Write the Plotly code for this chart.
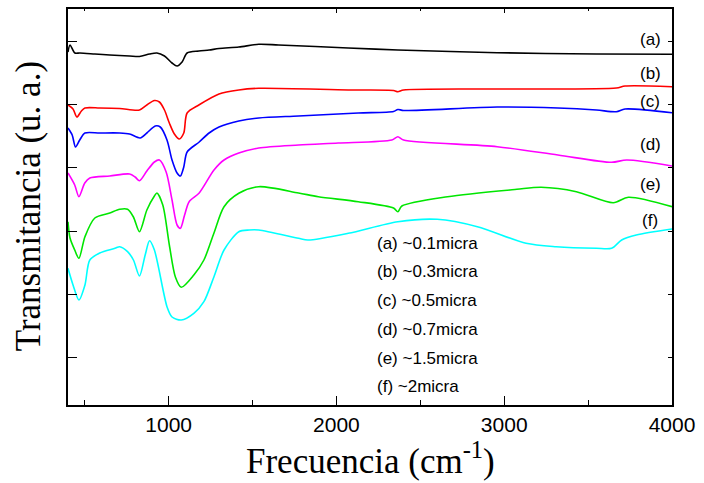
import plotly.graph_objects as go

# Frequencies (cm^-1) and transmittance (arbitrary units, offset traces)
freq_a = [400, 412, 441, 471, 560, 649, 767, 826, 886, 930, 975, 1020, 1050, 1080, 1110, 1180, 1241, 1300, 1418, 1537, 1655, 2070, 2366, 2958, 3550, 4000]
trans_a = [353, 360, 352, 352, 351, 350, 349, 348.5, 351, 352, 349, 342, 339, 343, 352, 354, 355, 356.5, 358, 360.7, 360, 357, 355, 352.3, 351, 350.7]

freq_b = [400, 430, 453, 480, 501, 589, 708, 826, 870, 915, 945, 975, 1004, 1034, 1063, 1090, 1110, 1180, 1300, 1418, 1537, 2070, 2340, 2366, 2400, 2958, 3668, 3720, 4000]
trans_b = [300, 296, 288, 294, 297, 297, 296.5, 295, 300, 304.5, 303, 295, 282, 271, 266, 272, 292, 300, 311, 315, 316.7, 315, 314.5, 313.3, 315, 316, 317, 319, 318.3]

freq_c = [400, 425, 445, 470, 501, 589, 708, 767, 830, 870, 920, 950, 990, 1020, 1050, 1070, 1090, 1110, 1182, 1241, 1300, 1418, 1537, 1774, 2130, 2340, 2366, 2400, 2958, 3320, 3550, 3668, 3720, 4000]
trans_c = [277, 270, 258, 265, 272, 272, 272, 271, 267, 272, 279, 278, 265, 245, 232, 229, 238, 253, 263, 272, 278, 284, 287, 289, 292, 293.5, 295.5, 294.5, 298, 297, 295, 293.3, 296, 292.3]

freq_d = [400, 440, 465, 500, 530, 649, 767, 800, 826, 870, 915, 945, 985, 1020, 1050, 1070, 1095, 1122, 1182, 1270, 1330, 1418, 1537, 1774, 2010, 2330, 2366, 2400, 2958, 3320, 3640, 3730, 4000]
trans_d = [232, 220, 208.3, 222, 227, 229, 231, 228, 224.3, 234, 243, 245, 233, 205, 180, 176.7, 190, 203.3, 212, 235, 245, 252, 257, 260, 262, 265, 268.3, 265, 258.3, 250, 242.7, 245, 239]

freq_e = [400, 412, 440, 465, 501, 560, 649, 708, 755, 790, 826, 870, 915, 930, 965, 1004, 1040, 1075, 1150, 1210, 1270, 1330, 1418, 1537, 1774, 1892, 2130, 2340, 2366, 2390, 2662, 3075, 3220, 3430, 3650, 3740, 4000]
trans_e = [183.3, 167, 155, 146.7, 168.3, 187, 192, 195.7, 195.7, 188, 173.3, 195, 209, 212, 200, 160, 128, 117.7, 130, 145, 172, 198.3, 211.7, 218.3, 212, 208.3, 203.3, 197, 193.3, 199, 208.3, 215.7, 217.7, 213.3, 202.3, 207.7, 198.3]

freq_f = [400, 430, 465, 501, 530, 589, 680, 708, 755, 790, 826, 860, 886, 915, 990, 1020, 1075, 1150, 1210, 1270, 1330, 1418, 1480, 1537, 1774, 1830, 2070, 2366, 2600, 2840, 3130, 3310, 3550, 3640, 3700, 3787, 4000]
trans_f = [136.7, 120, 105, 120, 145, 152, 156.7, 158.3, 153.3, 145, 129, 150, 164.3, 155, 98.3, 88, 85, 91.7, 103.3, 128.3, 155, 173.3, 175, 175, 166.7, 165, 171.7, 183.3, 185.7, 178.3, 161.7, 158.3, 156.7, 156.7, 165, 170, 176]

series_labels = ["(a)", "(b)", "(c)", "(d)", "(e)", "(f)"]
legend_texts = ["(a) ~0.1micra", "(b) ~0.3micra", "(c) ~0.5micra", "(d) ~0.7micra", "(e) ~1.5micra", "(f) ~2micra"]
colors = ["#000000", "#ff0000", "#0000ff", "#ff00ff", "#00e600", "#00ffff"]

x_ticks = [1000, 2000, 3000, 4000]
y_ticks = [48, 111, 174, 238, 301, 364]

# label positions (data coords)
label_x = 3870
label_y = [366, 332, 304, 261, 221, 185]
legend_x = 2230
legend_y = [162, 133.5, 105, 76, 47, 18.5]

series = [(freq_a, trans_a), (freq_b, trans_b), (freq_c, trans_c),
          (freq_d, trans_d), (freq_e, trans_e), (freq_f, trans_f)]

fig = go.Figure()
for (fx, ty), col, name in zip(series, colors, series_labels):
    fig.add_trace(go.Scatter(x=fx, y=ty, mode="lines", name=name,
                             line=dict(color=col, width=1.6, shape="spline", smoothing=0.8),
                             showlegend=False, hoverinfo="skip"))

# invisible trace for secondary (mirror tick) axes
fig.add_trace(go.Scatter(x=[400], y=[0], xaxis="x2", yaxis="y2", mode="markers",
                         marker=dict(opacity=0), showlegend=False, hoverinfo="skip"))

tick_font = dict(family="Liberation Sans, Arial", size=21, color="black")
fig.update_layout(
    width=704, height=483,
    margin=dict(l=68, r=28, t=9, b=78),
    paper_bgcolor="white", plot_bgcolor="white",
    xaxis=dict(range=[400, 4000], tickvals=x_ticks, ticks="inside", ticklen=9, tickwidth=1.3,
               tickcolor="black", showline=True, linecolor="black", linewidth=1.5,
               showgrid=False, zeroline=False, tickfont=tick_font,
               minor=dict(dtick=500, tick0=0, ticks="inside", ticklen=5, tickwidth=1.2, tickcolor="black")),
    yaxis=dict(range=[0, 396], tickvals=y_ticks, ticks="inside", ticklen=9, tickwidth=1.3,
               tickcolor="black", showline=True, linecolor="black", linewidth=1.5,
               showgrid=False, zeroline=False, showticklabels=False),
    xaxis2=dict(range=[400, 4000], overlaying="x", side="top", tickvals=x_ticks, ticks="inside",
                ticklen=4, tickwidth=1.2, tickcolor="black", showline=True, linecolor="black",
                linewidth=1.5, showgrid=False, zeroline=False, showticklabels=False,
                minor=dict(dtick=500, tick0=0, ticks="inside", ticklen=2, tickwidth=1, tickcolor="black")),
    yaxis2=dict(range=[0, 396], overlaying="y", side="right", tickvals=y_ticks, ticks="inside",
                ticklen=4, tickwidth=1.2, tickcolor="black", showline=True, linecolor="black",
                linewidth=1.5, showgrid=False, zeroline=False, showticklabels=False),
)

annotations = []
for lab, ly in zip(series_labels, label_y):
    annotations.append(dict(x=label_x, y=ly, xref="x", yref="y", text=lab, showarrow=False,
                            xanchor="center", yanchor="middle",
                            font=dict(family="Liberation Sans, Arial", size=17, color="black")))
for txt, ly in zip(legend_texts, legend_y):
    annotations.append(dict(x=legend_x, y=ly, xref="x", yref="y", text=txt, showarrow=False,
                            xanchor="left", yanchor="middle",
                            font=dict(family="Liberation Sans, Arial", size=17, color="black")))
annotations.append(dict(x=0.5, y=(405 - 458) / 396, xref="paper", yref="paper",
                        text="Frecuencia (cm<sup>-1</sup>)", showarrow=False,
                        xanchor="center", yanchor="middle",
                        font=dict(family="Liberation Serif, Times New Roman", size=35, color="black")))
annotations.append(dict(x=(28 - 68) / 608, y=(405 - 206) / 396, xref="paper", yref="paper",
                        text="Transmitancia (u. a.)", showarrow=False, textangle=-90,
                        xanchor="center", yanchor="middle",
                        font=dict(family="Liberation Serif, Times New Roman", size=35, color="black")))
fig.update_layout(annotations=annotations)

fig.write_html("out.html")
